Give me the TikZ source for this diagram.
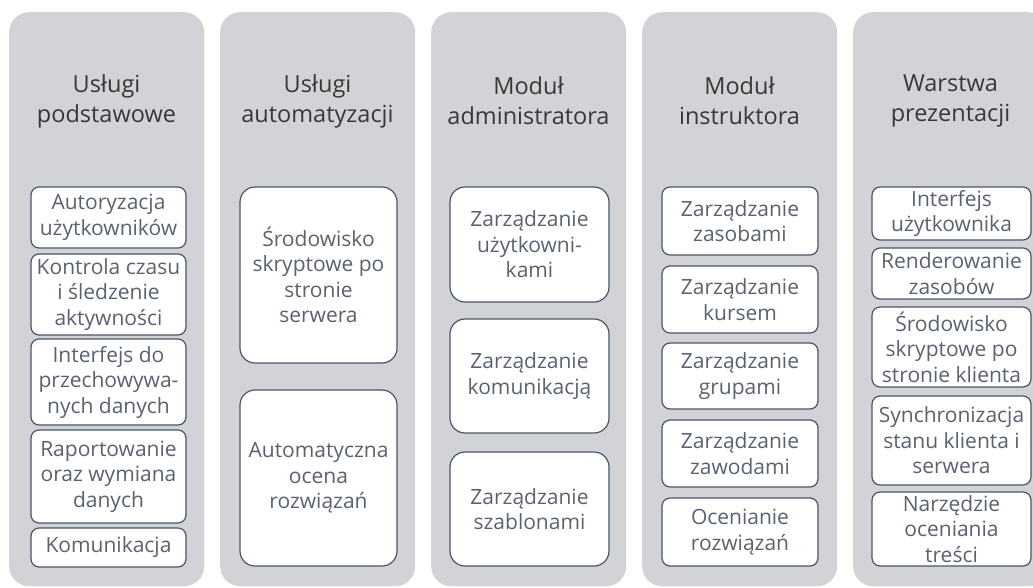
\documentclass[tikz,border=0pt]{standalone}
\usepackage{fontspec}
\setmainfont{Open Sans}

\definecolor{lanegray}{HTML}{D2D3D7}
\definecolor{edgeblue}{HTML}{4A5466}
\definecolor{itemtext}{HTML}{5A6270}
\definecolor{headtext}{HTML}{383838}

\begin{document}
\begin{tikzpicture}[
  x=1pt, y=-1pt,
  lane/.style={fill=lanegray, rounded corners=20pt, anchor=north west, inner sep=0pt,
    minimum width=195pt, minimum height=574pt},
  head/.style={align=center, text=headtext, font=\fontsize{23.5}{30}\selectfont},
  item/.style={draw=edgeblue, fill=white, line width=1.2pt, rounded corners=8pt,
    align=center, inner sep=0pt, text=itemtext, font=\fontsize{21}{25.5}\selectfont},
  bigitem/.style={item, rounded corners=15pt}
]
\useasboundingbox (0,0) rectangle (1033,587);
\clip (0,0) rectangle (1033,587);

% columns
\node[lane] (core)  at (9,12) {};
\node[lane] (auto)  at (220,12) {};
\node[lane] (admin) at (431,12) {};
\node[lane] (instr) at (642,12) {};
\node[lane] (view)  at (853,12) {};

\node[head] (coreT)  at (106.5,101) {Usługi\\podstawowe};
\node[head] (autoT)  at (317.5,101) {Usługi\\automatyzacji};
\node[head] (adminT) at (528.5,101) {Moduł\\administratora};
\node[head] (instrT) at (739.5,101) {Moduł\\instruktora};
\node[head] (viewT)  at (950.5,101) {Warstwa\\prezentacji};

% core services
\node[item, minimum width=155pt, minimum height=61pt] (login)   at (108.5,217.5) {Autoryzacja\\użytkowników};
\node[item, minimum width=155pt, minimum height=81pt] (timing)  at (108.5,294.5) {Kontrola czasu\\i śledzenie\\aktywności};
\node[item, minimum width=155pt, minimum height=86pt] (storage) at (108.5,382) {Interfejs do\\przechowywa-\\nych danych};
\node[item, minimum width=155pt, minimum height=93pt] (reports) at (108.5,476.5) {Raportowanie\\oraz wymiana\\danych};
\node[item, minimum width=155pt, minimum height=39pt] (msg)     at (108.5,547.5) {Komunikacja};

% automation
\node[bigitem, minimum width=157pt, minimum height=176pt] (srvscript) at (318.5,275) {Środowisko\\skryptowe po\\stronie\\serwera};
\node[bigitem, minimum width=157pt, minimum height=176pt] (autograde) at (318.5,478) {Automatyczna\\ocena\\rozwiązań};

% administrator
\node[bigitem, minimum width=159pt, minimum height=115pt] (users)     at (529.5,244.5) {Zarządzanie\\użytkowni-\\kami};
\node[bigitem, minimum width=159pt, minimum height=114pt] (comms)     at (529.5,376) {Zarządzanie\\komunikacją};
\node[bigitem, minimum width=159pt, minimum height=114pt] (templates) at (529.5,509) {Zarządzanie\\szablonami};

% instructor
\node[item, minimum width=156pt, minimum height=68pt] (resources) at (740,221)   {Zarządzanie\\zasobami};
\node[item, minimum width=156pt, minimum height=67pt] (course)    at (740,299.5) {Zarządzanie\\kursem};
\node[item, minimum width=156pt, minimum height=66pt] (groups)    at (740,376)   {Zarządzanie\\grupami};
\node[item, minimum width=156pt, minimum height=67pt] (jobs)      at (740,453.5) {Zarządzanie\\zawodami};
\node[item, minimum width=156pt, minimum height=68pt] (grading)   at (740,532)   {Ocenianie\\rozwiązań};

% presentation layer
\node[item, minimum width=159pt, minimum height=53pt] (ui)        at (951.5,213.5) {Interfejs\\użytkownika};
\node[item, minimum width=159pt, minimum height=51pt] (render)    at (951.5,273.5) {Renderowanie\\zasobów};
\node[item, minimum width=159pt, minimum height=80pt] (cliscript) at (951.5,347)   {Środowisko\\skryptowe po\\stronie klienta};
\node[item, minimum width=159pt, minimum height=89pt] (sync)      at (951.5,440.5) {Synchronizacja\\stanu klienta i\\serwera};
\node[item, minimum width=159pt, minimum height=74pt] (rating)    at (951.5,529)   {Narzędzie\\oceniania\\treści};
\end{tikzpicture}
\end{document}
